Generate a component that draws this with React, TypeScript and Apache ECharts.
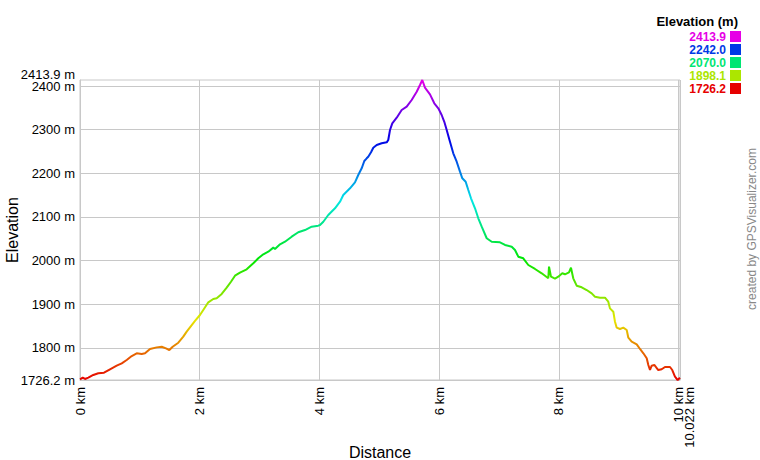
import React, { useEffect, useRef } from "react";
import * as echarts from "echarts";

const distanceKm = [
  0.0, 0.045, 0.084, 0.139, 0.222, 0.306, 0.401, 0.501, 0.613, 0.697, 0.78, 0.864, 0.947, 1.031, 1.086, 1.169,
  1.281, 1.365, 1.436, 1.492, 1.548, 1.642, 1.725, 1.782, 1.921, 2.004, 2.059, 2.143, 2.226, 2.283, 2.367, 2.45,
  2.522, 2.589, 2.672, 2.784, 2.895, 2.978, 3.062, 3.145, 3.229, 3.257, 3.341, 3.424, 3.536, 3.646, 3.758, 3.87,
  3.98, 4.009, 4.064, 4.147, 4.259, 4.343, 4.398, 4.51, 4.593, 4.648, 4.705, 4.749, 4.789, 4.815, 4.861, 4.899,
  4.956, 5.039, 5.123, 5.149, 5.178, 5.216, 5.29, 5.373, 5.457, 5.54, 5.624, 5.679, 5.717, 5.762, 5.846, 5.918,
  5.985, 6.041, 6.085, 6.125, 6.18, 6.235, 6.292, 6.347, 6.386, 6.442, 6.486, 6.531, 6.598, 6.653, 6.71, 6.793,
  6.877, 7.015, 7.099, 7.211, 7.266, 7.321, 7.404, 7.488, 7.6, 7.712, 7.822, 7.834, 7.867, 7.934, 7.989, 8.056,
  8.101, 8.168, 8.201, 8.239, 8.296, 8.38, 8.463, 8.547, 8.602, 8.686, 8.769, 8.824, 8.852, 8.908, 8.936, 8.965,
  9.02, 9.075, 9.132, 9.159, 9.215, 9.299, 9.354, 9.41, 9.466, 9.493, 9.521, 9.549, 9.593, 9.659, 9.716, 9.771,
  9.855, 9.893, 9.938, 9.983, 10.022,
];
const elevationM = [
  1727.8, 1731.5, 1728.5, 1731.5, 1737.7, 1741.6, 1743.0, 1750.8, 1759.0, 1764.5, 1772.0, 1781.2, 1787.4, 1785.8, 1787.4, 1797.3,
  1801.0, 1802.5, 1798.8, 1795.0, 1802.5, 1811.7, 1825.5, 1837.0, 1861.5, 1875.2, 1886.7, 1904.3, 1911.9, 1913.5, 1923.4, 1937.8,
  1951.5, 1965.3, 1972.3, 1979.9, 1993.7, 2005.2, 2014.4, 2020.4, 2029.6, 2026.5, 2037.2, 2043.2, 2054.7, 2064.8, 2070.0, 2077.6,
  2080.0, 2081.5, 2089.0, 2104.4, 2119.8, 2134.9, 2150.3, 2165.6, 2179.4, 2196.1, 2211.5, 2228.2, 2234.4, 2238.1, 2248.2, 2258.7,
  2264.9, 2268.8, 2271.0, 2276.4, 2299.3, 2314.6, 2327.5, 2345.1, 2352.7, 2368.1, 2387.1, 2402.4, 2413.9, 2396.3, 2381.1, 2360.5,
  2349.0, 2333.7, 2318.0, 2299.3, 2272.5, 2245.9, 2226.6, 2203.8, 2188.5, 2180.8, 2161.7, 2142.7, 2119.8, 2096.9, 2077.6, 2051.1,
  2043.2, 2041.9, 2035.7, 2031.8, 2024.2, 2008.9, 2005.2, 1989.8, 1980.7, 1970.8, 1959.3, 1986.0, 1963.0, 1958.5, 1963.0, 1970.8,
  1968.5, 1973.0, 1983.7, 1959.3, 1942.4, 1938.7, 1932.5, 1924.8, 1917.2, 1914.9, 1914.9, 1905.7, 1890.4, 1882.8, 1859.8, 1846.1,
  1843.0, 1846.1, 1840.8, 1823.2, 1814.0, 1808.0, 1797.3, 1787.4, 1775.9, 1760.6, 1749.1, 1759.0, 1760.6, 1749.1, 1750.8, 1756.0,
  1756.0, 1749.1, 1733.8, 1726.2, 1731.5,
];

const elevMin = 1726.2;
const elevMax = 2413.9;
const distMax = 10.022;
const yTickValues = [1800, 1900, 2000, 2100, 2200, 2300, 2400];
const xTickValues = [0, 2, 4, 6, 8, 10];
const legendValues = ["2413.9", "2242.0", "2070.0", "1898.1", "1726.2"];
const legendColors = ["#E600E6", "#0039E6", "#00E673", "#ACE600", "#E60000"];
const hueStops = [
  "#E60000", "#E67300", "#E6E600", "#73E600", "#00E600", "#00E673",
  "#00E6E6", "#0073E6", "#0000E6", "#7300E6", "#E600E6",
];

const FONT = "'Liberation Sans', Arial, Helvetica, sans-serif";
const GRID_COLOR = "#c8c8c8";

export default function App() {
  const ref = useRef<HTMLDivElement>(null);

  useEffect(() => {
    document.body.style.margin = "0";
    if (!ref.current) return;
    const chart = echarts.init(ref.current, null, { renderer: "svg" });

    const legendGraphics: any[] = [
      {
        type: "text",
        x: 738,
        y: 21,
        style: { text: "Elevation (m)", align: "right", verticalAlign: "middle", fill: "#000", font: `bold 13px ${FONT}` },
      },
    ];
    legendValues.forEach((v, i) => {
      legendGraphics.push({
        type: "text",
        x: 726,
        y: 37 + 13 * i,
        style: { text: v, align: "right", verticalAlign: "middle", fill: legendColors[i], font: `bold 12px ${FONT}` },
      });
      legendGraphics.push({
        type: "rect",
        shape: { x: 730, y: 31 + 13 * i, width: 11, height: 11 },
        style: { fill: legendColors[i] },
      });
    });
    legendGraphics.push({
      type: "text",
      x: 752,
      y: 229,
      rotation: Math.PI / 2,
      style: { text: "created by GPSVisualizer.com", align: "center", verticalAlign: "middle", fill: "#888", font: `12px ${FONT}` },
    });

    const labelBase = { fontSize: 13, color: "#000", fontFamily: FONT, hideOverlap: false };

    chart.setOption({
      animation: false,
      textStyle: { fontFamily: FONT },
      grid: {
        left: 80, right: 80, top: 80, bottom: 80,
        containLabel: false,
        outerBoundsMode: "none",
        show: true, borderColor: GRID_COLOR, borderWidth: 1,
      },
      visualMap: {
        type: "continuous",
        show: false,
        dimension: 1,
        seriesIndex: 0,
        min: elevMin,
        max: elevMax,
        inRange: { color: hueStops },
      },
      xAxis: {
        type: "value",
        min: 0,
        max: distMax,
        interval: 2,
        name: "Distance",
        nameLocation: "middle",
        nameGap: 64,
        nameMoveOverlap: false,
        nameTextStyle: { fontSize: 16, color: "#000", fontFamily: FONT },
        axisLine: { show: true, lineStyle: { color: GRID_COLOR } },
        axisTick: { show: false },
        splitLine: { show: true, lineStyle: { color: GRID_COLOR, width: 1 } },
        axisLabel: {
          ...labelBase,
          rotate: 90,
          margin: 7,
          lineHeight: 11,
          customValues: xTickValues,
          formatter: (v: number) =>
            v === xTickValues[xTickValues.length - 1] ? ` \n${v} km\n${distMax} km` : `${v} km`,
        },
      },
      yAxis: [
        {
          type: "value",
          min: elevMin,
          max: elevMax,
          name: "Elevation",
          nameLocation: "middle",
          nameGap: 60,
          nameMoveOverlap: false,
          nameTextStyle: { fontSize: 16, color: "#000", fontFamily: FONT },
          axisLine: { show: true, lineStyle: { color: GRID_COLOR } },
          axisTick: { show: false, customValues: yTickValues },
          splitLine: { show: true, lineStyle: { color: GRID_COLOR, width: 1 } },
          axisLabel: {
            ...labelBase,
            margin: 5,
            lineHeight: 12,
            showMinLabel: true,
            showMaxLabel: true,
            customValues: [elevMin, ...yTickValues],
            formatter: (v: number) => `${v} m`,
          },
        },
        {
          type: "value",
          position: "left",
          offset: 0,
          min: elevMin,
          max: elevMax,
          axisLine: { show: false },
          axisTick: { show: false, customValues: [elevMax] },
          splitLine: { show: false },
          axisLabel: {
            ...labelBase,
            margin: 5,
            lineHeight: 12,
            verticalAlign: "bottom",
            showMinLabel: false,
            showMaxLabel: true,
            customValues: [elevMax],
            formatter: (v: number) => `${v} m`,
          },
        },
      ],
      series: [
        {
          type: "line",
          yAxisIndex: 0,
          data: distanceKm.map((d, i) => [d, elevationM[i]]),
          showSymbol: false,
          symbol: "none",
          lineStyle: { width: 2 },
          z: 3,
        },
      ],
      graphic: legendGraphics,
    });

    return () => chart.dispose();
  }, []);

  return <div ref={ref} style={{ width: 760, height: 460 }} />;
}
